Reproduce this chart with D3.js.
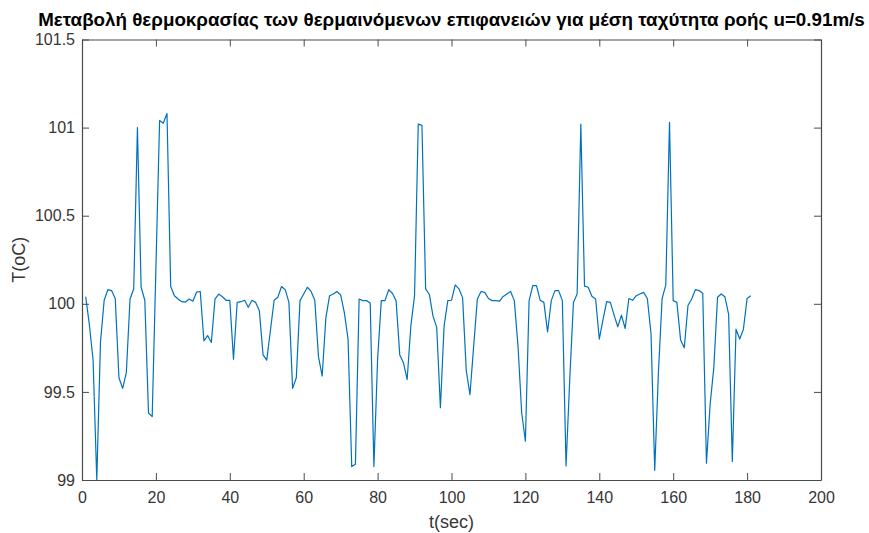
<!DOCTYPE html>
<html>
<head>
<meta charset="utf-8">
<script src="https://cdn.jsdelivr.net/npm/d3@7"></script>
<style>
  html, body { margin: 0; padding: 0; background: #fff; }
  svg { display: block; }
  text { font-family: "Liberation Sans", Arial, Helvetica, sans-serif; }
</style>
</head>
<body>
<svg id="chart" width="869" height="533"></svg>
<script>
// Surface temperature, sampled once per second starting at t = 1 s
const sampleStart = 1;      // s
const sampleStep = 1;       // s
const temperature = [
  100.04, 99.88, 99.68, 99.00, 99.78, 100.02, 100.08, 100.075, 100.03, 99.58,
  99.52, 99.61, 100.027, 100.085, 101.00, 100.094, 100.02, 99.38, 99.36, 100.20,
  101.04, 101.025, 101.08, 100.10, 100.046, 100.027, 100.012, 100.01, 100.027, 100.015,
  100.066, 100.07, 99.79, 99.82, 99.78, 100.027, 100.055, 100.04, 100.02, 100.02,
  99.685, 100.008, 100.012, 100.02, 99.98, 100.02, 100.008, 99.96, 99.71, 99.68,
  99.85, 100.02, 100.037, 100.098, 100.08, 100.008, 99.52, 99.58, 100.018, 100.056,
  100.094, 100.07, 100.02, 99.70, 99.59, 99.92, 100.046, 100.056, 100.07, 100.05,
  99.95, 99.80, 99.076, 99.09, 100.027, 100.018, 100.018, 100.005, 99.076, 99.685,
  100.018, 100.018, 100.08, 100.06, 100.018, 99.71, 99.665, 99.57, 99.875, 100.046,
  101.02, 101.013, 100.085, 100.053, 99.93, 99.866, 99.41, 99.875, 100.018, 100.02,
  100.107, 100.085, 100.035, 99.62, 99.485, 99.76, 100.027, 100.07, 100.065, 100.03,
  100.018, 100.018, 100.015, 100.042, 100.056, 100.07, 100.018, 99.76, 99.38, 99.22,
  100.018, 100.103, 100.103, 100.02, 100.008, 99.84, 100.018, 100.075, 100.075, 100.018,
  99.08, 99.57, 100.008, 100.056, 101.02, 100.10, 100.094, 100.043, 100.027, 99.80,
  99.91, 100.012, 100.008, 99.936, 99.87, 99.936, 99.86, 100.03, 100.02, 100.046,
  100.056, 100.065, 100.03, 99.83, 99.055, 99.61, 100.03, 100.107, 101.03, 100.018,
  100.008, 99.795, 99.75, 99.99, 100.027, 100.08, 100.075, 100.06, 99.095, 99.43,
  99.64, 100.037, 100.056, 100.04, 99.94, 99.105, 99.856, 99.80, 99.856, 100.03,
  100.046
];

const xTicks = [0, 20, 40, 60, 80, 100, 120, 140, 160, 180, 200];
const yTicks = [99, 99.5, 100, 100.5, 101, 101.5];
const xDomain = [0, 200];
const yDomain = [99, 101.5];

const titleText = "Μεταβολή θερμοκρασίας των θερμαινόμενων επιφανειών για μέση ταχύτητα ροής u=0.91m/s";
const xLabelText = "t(sec)";
const yLabelText = "T(oC)";

const points = temperature.map((v, i) => ({ t: sampleStart + i * sampleStep, v }));

const svg = d3.select("#chart");
const margin = { left: 82, right: 48, top: 39.5, bottom: 53 };
const W = 869, H = 533;
const innerW = W - margin.left - margin.right;
const innerH = H - margin.top - margin.bottom;

const x = d3.scaleLinear().domain(xDomain).range([margin.left, margin.left + innerW]);
const y = d3.scaleLinear().domain(yDomain).range([margin.top + innerH, margin.top]);

const axisColor = "#4a4a4a";
const tickLen = 7;

// data line
const line = d3.line().x(d => x(d.t)).y(d => y(d.v));
svg.append("path")
  .datum(points)
  .attr("fill", "none")
  .attr("stroke", "#0072BD")
  .attr("stroke-width", 1.2)
  .attr("stroke-linejoin", "round")
  .attr("d", line);

// axes with inward ticks on all four sides
function styleAxis(g) {
  g.select(".domain").attr("stroke", axisColor).attr("stroke-width", 1.2);
  g.selectAll(".tick line").attr("stroke", axisColor).attr("stroke-width", 1);
  g.selectAll(".tick text").attr("fill", "#363636").style("font-size", "16px")
    .style("font-family", "'Liberation Sans', Arial, sans-serif");
}

const axisB = svg.append("g")
  .attr("transform", `translate(0,${margin.top + innerH})`)
  .call(d3.axisBottom(x).tickValues(xTicks).tickFormat(d3.format("d"))
    .tickSizeInner(-tickLen).tickSizeOuter(0).tickPadding(12));
styleAxis(axisB);

const axisT = svg.append("g")
  .attr("transform", `translate(0,${margin.top})`)
  .call(d3.axisTop(x).tickValues(xTicks).tickFormat("")
    .tickSizeInner(-tickLen).tickSizeOuter(0));
styleAxis(axisT);

const axisL = svg.append("g")
  .attr("transform", `translate(${margin.left},0)`)
  .call(d3.axisLeft(y).tickValues(yTicks).tickFormat(d3.format("~g"))
    .tickSizeInner(-tickLen).tickSizeOuter(0).tickPadding(7));
styleAxis(axisL);

const axisR = svg.append("g")
  .attr("transform", `translate(${margin.left + innerW},0)`)
  .call(d3.axisRight(y).tickValues(yTicks).tickFormat("")
    .tickSizeInner(-tickLen).tickSizeOuter(0));
styleAxis(axisR);

// title and axis labels
svg.append("text")
  .attr("x", margin.left + innerW / 2)
  .attr("y", 26)
  .attr("text-anchor", "middle")
  .attr("fill", "#000")
  .style("font-size", "18.8px")
  .style("font-weight", "bold")
  .text(titleText);

svg.append("text")
  .attr("x", margin.left + innerW / 2)
  .attr("y", 528)
  .attr("text-anchor", "middle")
  .attr("fill", "#363636")
  .style("font-size", "18px")
  .text(xLabelText);

svg.append("text")
  .attr("transform", `translate(25,${margin.top + innerH / 2}) rotate(-90)`)
  .attr("text-anchor", "middle")
  .attr("fill", "#363636")
  .style("font-size", "18px")
  .text(yLabelText);
</script>
</body>
</html>
